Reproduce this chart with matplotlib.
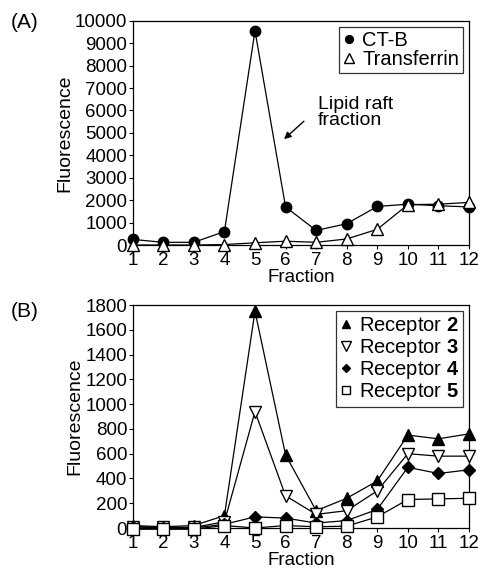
import numpy as np
import matplotlib
matplotlib.use("Agg")
import matplotlib.pyplot as plt

plt.rcParams['font.family'] = ['Liberation Sans', 'DejaVu Sans']
plt.rcParams['mathtext.fontset'] = 'custom'
plt.rcParams['mathtext.rm'] = 'Liberation Sans'
plt.rcParams['mathtext.bf'] = 'Liberation Sans:bold'

# Data
fractions = np.arange(1, 13)
ctb = [250, 120, 120, 600, 9550, 1700, 650, 950, 1720, 1820, 1750, 1700]
transferrin = [0, 0, 0, 20, 100, 170, 120, 270, 700, 1800, 1820, 1900]

receptor2 = [20, 10, 20, 100, 1750, 590, 140, 240, 380, 750, 720, 760]
receptor3 = [10, 5, 5, 50, 940, 260, 110, 140, 300, 600, 580, 580]
receptor4 = [10, 0, 0, 30, 90, 80, 40, 60, 150, 490, 440, 470]
receptor5 = [-10, -10, -10, 20, 0, 20, 10, 15, 90, 230, 235, 240]

fig = plt.figure(figsize=(4.78, 5.71), dpi=100)
axA = fig.add_axes([0.2776, 0.5709, 0.7036, 0.3928])
axB = fig.add_axes([0.2776, 0.0753, 0.7036, 0.3905])

fs = 13.5
lw = 0.9
ms = 8

def style(ax, ymax, ystep):
    ax.set_xlim(1, 12)
    ax.set_ylim(0, ymax)
    ax.set_xticks(fractions)
    ax.set_yticks(np.arange(0, ymax + 1, ystep))
    ax.tick_params(direction='out', length=3, width=0.8, labelsize=fs, pad=1)
    ax.tick_params(axis='x', pad=2)
    for s in ax.spines.values():
        s.set_linewidth(0.9)
    ax.set_xlabel("Fraction", fontsize=fs, labelpad=0)
    ax.set_ylabel("Fluorescence", fontsize=14, labelpad=1)

def legend(ax):
    leg = ax.legend(loc='upper right', fontsize=14.5, frameon=True, fancybox=False,
                    handlelength=0.6, handletextpad=0.35, borderpad=0.2,
                    labelspacing=0.0, borderaxespad=0.3, markerscale=0.75)
    leg.get_frame().set_edgecolor('black')
    leg.get_frame().set_linewidth(0.9)
    for h in leg.legend_handles:
        h.set_linestyle('None')

# Panel A
axA.plot(fractions, ctb, color='black', lw=lw, marker='o', ms=ms - 0.5,
         mfc='black', mec='black', label="CT-B", clip_on=False, zorder=3)
axA.plot(fractions, transferrin, color='black', lw=lw, marker='^', ms=ms + 1,
         mfc='white', mec='black', label="Transferrin", clip_on=False, zorder=4)
style(axA, 10000, 1000)
legend(axA)
axA.text(7.06, 6650, "Lipid raft\nfraction", fontsize=14, ha='left', va='top',
         linespacing=0.95)
axA.annotate("", xy=(5.95, 4720), xytext=(6.6, 5520),
             arrowprops=dict(arrowstyle='-|>', color='black', lw=1.0,
                             mutation_scale=10, shrinkA=0, shrinkB=0))
fig.text(0.022, 0.961, "(A)", fontsize=15, va='center', ha='left')

# Panel B
axB.plot(fractions, receptor2, color='black', lw=lw, marker='^', ms=ms,
         mfc='black', mec='black', label=r"Receptor $\mathbf{2}$", clip_on=False, zorder=3)
axB.plot(fractions, receptor3, color='black', lw=lw, marker='v', ms=ms + 1,
         mfc='white', mec='black', label=r"Receptor $\mathbf{3}$", clip_on=False, zorder=3)
axB.plot(fractions, receptor4, color='black', lw=lw, marker='D', ms=ms - 2,
         mfc='black', mec='black', label=r"Receptor $\mathbf{4}$", clip_on=False, zorder=3)
axB.plot(fractions, receptor5, color='black', lw=lw, marker='s', ms=ms + 0.5,
         mfc='white', mec='black', label=r"Receptor $\mathbf{5}$", clip_on=False, zorder=4)
style(axB, 1800, 200)
legend(axB)
fig.text(0.022, 0.455, "(B)", fontsize=15, va='center', ha='left')

fig.savefig("out.png", dpi=100)
